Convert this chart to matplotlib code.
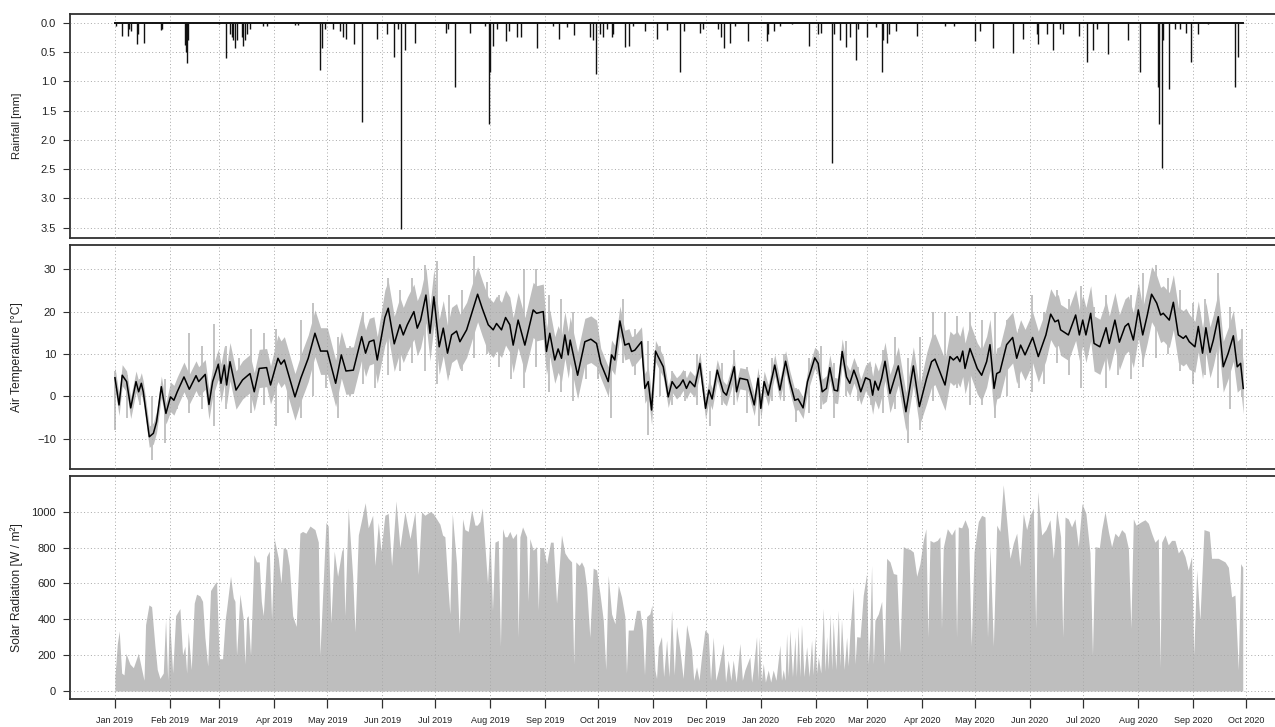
import numpy as np
import pandas as pd
import matplotlib
matplotlib.use('Agg')
import matplotlib.pyplot as plt

plt.rcParams['font.family'] = ['Liberation Sans', 'DejaVu Sans']

# all x values are days since 2019-01-01
start = pd.Timestamp('2019-01-01')
record_days = [0, 637.5]

month_labels = ['Jan 2019', 'Feb 2019', 'Mar 2019', 'Apr 2019', 'May 2019', 'Jun 2019',
                'Jul 2019', 'Aug 2019', 'Sep 2019', 'Oct 2019', 'Nov 2019', 'Dec 2019',
                'Jan 2020', 'Feb 2020', 'Mar 2020', 'Apr 2020', 'May 2020', 'Jun 2020',
                'Jul 2020', 'Aug 2020', 'Sep 2020', 'Oct 2020']

# rainfall events (hourly totals, mm)
rain_day = [0.6, 3.8, 7.2, 8.1, 8.9, 12.2, 12.8, 16.6, 26, 26.7,
            39.5, 40.1, 40.5, 41.1, 58.9, 62.5, 65, 65.9, 66.9, 68,
            69.1, 71.6, 72.5, 73.4, 74.4, 76.3, 83.8, 85.7, 101.7, 103.6,
            115.8, 116.9, 118.6, 123.4, 127.1, 129, 130.5, 135.2, 139.7, 147.8,
            153.9, 157.8, 160.1, 161.6, 163.8, 169.5,
            187, 188, 192.1, 200.5, 209, 211.3, 211.9, 213.7, 215.6, 220.9,
            222.8, 226.9, 229.4, 238.2, 247.6, 251, 255.2, 259.3, 268.3, 270.2,
            271.7, 274, 275.9, 277.8, 280.6, 281.5, 288.1, 290.4, 292.8, 299.4,
            306, 311.7, 319.2, 321.6, 330.5, 332.4, 340.9, 342.7, 344.2, 347.4,
            350.2, 357.8, 368.2, 369.1, 372.3, 375.7, 382.3, 392.3, 397.4, 399.2,
            405.3, 406.4, 409.6, 413.3,
            415.3, 418.5, 420, 424.7, 430, 433.4, 434.2, 436, 437.5, 441.3,
            453, 469, 474, 485.9, 488.7, 496.3, 507.6, 512.9, 520.8, 521.7,
            526.4, 530.2, 534, 535.8, 544.9, 549, 552.4, 554.6, 561.3, 572.5,
            579.1, 589.5, 590.1, 591.4, 592.3, 595.7, 598.9, 601.7, 605.1, 607.8,
            612.1, 617.4, 632.8, 634.7]
rain_mm = [0.05, 0.23, 0.23, 0.1, 0.15, 0.36, 0.2, 0.34, 0.13, 0.1,
           0.38, 0.5, 0.68, 0.3, 0.03, 0.6, 0.2, 0.25, 0.3, 0.44,
           0.3, 0.25, 0.4, 0.3, 0.2, 0.1, 0.05, 0.05, 0.04, 0.04,
           0.8, 0.44, 0.1, 0.1, 0.15, 0.24, 0.27, 0.36, 1.69, 0.28,
           0.2, 0.59, 0.1, 3.53, 0.46, 0.34,
           0.18, 0.1, 1.09, 0.17, 0.05, 1.73, 0.85, 0.4, 0.1, 0.32,
           0.15, 0.25, 0.25, 0.44, 0.05, 0.27, 0.07, 0.21, 0.25, 0.3,
           0.88, 0.2, 0.25, 0.1, 0.24, 0.2, 0.42, 0.4, 0.05, 0.15,
           0.27, 0.13, 0.84, 0.15, 0.18, 0.1, 0.1, 0.24, 0.44, 0.35,
           0.05, 0.31, 0.32, 0.2, 0.15, 0.05, 0.03, 0.4, 0.2, 0.18,
           2.39, 0.2, 0.3, 0.41,
           0.24, 0.64, 0.1, 0.25, 0.08, 0.85, 0.3, 0.34, 0.2, 0.15,
           0.23, 0.05, 0.06, 0.31, 0.15, 0.44, 0.52, 0.28, 0.2, 0.37,
           0.2, 0.46, 0.1, 0.19, 0.23, 0.67, 0.47, 0.1, 0.53, 0.3,
           0.84, 1.1, 1.73, 2.48, 0.3, 1.14, 0.1, 0.1, 0.18, 0.67,
           0.19, 0.03, 1.09, 0.59]

# daily mean air temperature (turning points of the black line)
temp_day = [0, 2.3, 4.1, 6.6, 8.9, 11.9, 13.4, 14.9, 16, 19.4, 21.7, 23.5, 26.2, 28.8,
            31.4, 33.3, 35.2, 39, 42, 45.8, 47.3, 51, 53.1, 55.2, 58.4, 59.9, 61.8, 63.1, 65,
            68.4, 72.1, 76.3, 78.7, 81.5, 85.7, 87.9, 92.1, 93.8, 95.7, 101.7, 105, 109.2, 113,
            116.2, 120, 124.7, 127.9, 130.5, 134.7, 139.4, 141.6, 143.7, 146.3, 148.2, 152.5,
            154.4, 157.8, 161, 162.9, 165.2, 168.9, 170.8, 172.7, 175.7, 178, 180.2, 183.2,
            185.5, 187.9, 190.2, 193, 194.9, 198.7, 200.6, 204.9, 207.5,
            210.9, 213.7, 215.6, 218.4, 220.7, 223.1, 225, 227.8, 231.6, 236.3,
            238.2, 242, 243.8, 245.7, 248.5, 250.4, 252.3, 254.2, 256.1, 257.2,
            261.4, 265.5, 268.9, 272.1, 274.5, 278.7, 280.6, 282.4, 285.3, 288.1,
            290.4, 291.9, 293.7, 297.5, 299.4, 301.3, 303.2, 305.4, 306.9, 309.8,
            312.6, 314.8, 317.3, 319.2, 321, 322.9, 324.8, 327.6, 330.5, 333.7,
            335.6, 337.4, 340.3, 343.7, 345.5, 348, 349.9, 351.2, 353.1, 357.4,
            361.2, 363.4, 364.9, 366.8, 369.1, 372.8, 375.7, 378.9, 381.3, 384.1,
            386, 388.8, 391.3, 395.4, 397.3, 399.6, 402, 403.9, 406.4, 408.3,
            410.9, 413.3, 415.2, 417.5, 419.5, 421.4, 424.1,
            426.6, 428.1, 429.4, 431.3, 433.2, 435.1, 437.9, 442.6, 446.9, 451.1,
            454.5, 458.6, 461.4, 463.3, 466.1, 469, 471.8, 473.7, 475.9, 477.4,
            479, 480.3, 483.1, 487.2, 489.7, 492.5, 494.4, 496.7, 498.2, 500,
            503.8, 507.2, 509.5, 511.7, 514.2, 518.5, 521.7, 526, 528.7, 531.1,
            533, 534.3, 538.7, 542.8, 544.9, 546.8, 548.6, 551.3, 553.2, 556.5,
            560, 561.8, 565, 567.5, 570.7, 572.6, 575.4, 578.2, 580.7, 583.3,
            585.7, 588.6, 590.8, 592.3, 595.7, 598, 600.8, 603.6, 605.1, 607,
            610.2, 612.1, 614.5, 616.4, 618.7, 620.6, 623.4, 626.2, 629, 631.9,
            634.1, 636, 637.5]
temp_mean = [4.4, -2.0, 5.0, 3.5, -2.7, 3.5, 1.1, 3.1, 1.1, -9.5, -8.7, -6.0, 2.3, -4.0,
             -0.1, -0.9, 1.1, 4.6, 1.7, 4.9, 3.5, 5.2, -1.9, 3.5, 7.6, 3.1, 7.4, 2.7, 8.2,
             1.5, 3.9, 5.4, 1.1, 6.6, 6.8, 2.7, 9.0, 7.6, 8.6, -0.1, 4.3, 9.0, 14.9,
             10.7, 10.7, 3.1, 9.8, 6.0, 6.2, 14.1, 10.2, 12.9, 13.3, 8.6, 18.6,
             20.8, 12.4, 16.9, 14.5, 16.9, 20.0, 16.1, 18.0, 23.9, 14.9, 23.5, 11.7,
             16.1, 10.2, 14.5, 15.4, 12.9, 15.7, 18.3, 24.1, 20.8,
             16.9, 15.7, 17.2, 15.7, 18.6, 16.9, 12.1, 18.0, 12.1, 20.4,
             19.6, 20.0, 10.6, 14.9, 8.6, 11.2, 9.0, 14.5, 9.8, 13.3,
             5.0, 12.9, 13.5, 12.5, 7.8, 3.5, 9.8, 8.6, 17.8, 12.1,
             12.5, 10.6, 10.9, 12.9, 1.9, 3.5, -3.2, 10.7, 9.4, 7.0,
             -0.1, 3.5, 1.9, 2.7, 3.9, 1.9, 3.6, 2.3, 7.8, -2.8,
             1.5, -0.6, 6.2, 1.1, 0.3, 3.9, 7.0, 1.1, 4.3, 3.9,
             -2.0, 4.3, -2.8, 3.5, 0.3, 7.4, 1.5, 8.3, 3.5, -0.9,
             -0.6, -2.7, 3.5, 9.1, 7.8, 1.1, 1.9, 6.8, 1.5, 1.3,
             10.6, 4.6, 3.1, 6.2, 3.9, 1.1, 4.4,
             3.9, 0.3, 3.6, 1.5, 4.3, 8.3, 0.7, 7.2, -3.6, 7.2,
             -2.4, 4.3, 8.2, 8.8, 5.8, 2.7, 9.4, 8.6, 9.4, 8.2,
             10.7, 6.6, 11.3, 6.6, 5.0, 8.2, 12.2, 1.9, 5.4, 5.8,
             12.2, 13.9, 9.0, 12.1, 9.8, 13.9, 9.4, 14.5, 19.4, 17.6,
             18.0, 15.7, 14.5, 19.2, 14.5, 18.0, 14.5, 19.6, 12.5, 11.7,
             16.2, 12.5, 18.0, 12.8, 16.5, 17.2, 13.3, 20.4, 14.5, 19.2,
             24.1, 22.0, 19.2, 19.6, 18.0, 22.2, 14.5, 13.7, 14.3, 12.9,
             11.7, 16.5, 10.2, 16.2, 10.4, 13.3, 18.8, 7.0, 10.2, 14.3,
             7.0, 7.8, 1.9]

# dense part of the hourly grey trace: half width around the daily mean, per month
core_halfwidth = [2.5, 3.5, 4.5, 5.5, 5.5, 6.5, 6.5, 6.5, 5.5, 3.5, 2.5, 2.5,
                  2.5, 3, 4.5, 6, 6, 6, 6.5, 6.5, 6]

# hourly temperature extremes, read weekly (days 0, 7, 14, ...)
band_step = 7
band_hi = [6, 5, 4, 0, 4, 3, 15, 12, 17, 12,
           9, 16, 15, 16, 10, 18, 22, 16, 14, 12,
           20, 16, 28, 25, 28, 31, 32, 24, 25, 33,
           27, 24, 21, 30, 30, 24, 23, 20, 16, 15,
           10, 23, 16, 13, 12, 6, 6, 10, 6, 8,
           11, 7, 5, 9, 10, 2, 9, 12, 8, 13,
           7, 7, 11, 14, 9, 14, 20, 20, 19, 20,
           18, 20, 18, 16, 24, 20, 25, 23, 26, 21,
           24, 20, 24, 29, 31, 28, 25, 22, 23, 29,
           21, 16]
band_lo = [-8, -5, -2, -15, -11, -3, -4, -3, -7, -3,
           -1, -4, -2, -7, -4, -5, 0, 2, -5, 0,
           3, 2, 5, 6, 8, 6, 3, 5, 6, 9,
           10, 7, 4, 2, 7, 1, 1, -1, 4, 4,
           -5, 8, 5, -9, 0, -2, -1, -2, -7, -2,
           -2, -4, -7, -1, -1, -6, -4, -3, -5, 0,
           -1, -2, -4, -3, -11, -8, -1, 0, 2, -2,
           -2, -5, 0, 2, 1, 3, 8, 5, 2, 9,
           2, 5, 4, 7, 9, 10, 6, 3, 5, 2,
           -3, 0]

# solar radiation peaks (W/m2), roughly one row per month
solar_day = [0, 1.3, 2.4, 3.8, 5.1, 6.2, 8.5, 10.4, 13.2, 15.1, 16.4, 17.3, 19.2, 20.7, 22.6, 23.9, 25.4, 27.3, 28.6, 29.8,
             30.7, 32.6, 34.3, 36.7, 38.2, 39.5, 40.5, 41.4, 43.1, 44.8, 46.1, 48, 49.5, 50.8, 52.4, 54, 56.5, 57.4, 58.9,
             60.8, 62.3, 63.1, 65.3, 66.9, 67.8, 68.7, 69.3, 70.6, 72.5, 73.4, 74.4, 75.3, 76.6, 78.5, 80, 81.5, 82.7, 83.8, 85.7, 87.2, 88.5, 90,
             92.3, 93.8, 95.1, 97, 98.5, 100.4, 102.4, 104.5, 106, 107.9, 110.2, 113, 114.9, 115.8, 119.2,
             120.5, 122, 123.9, 125.8, 128.1, 129, 129.9, 131.8, 134.3, 135.6, 137.5, 138.8, 141.4, 143.1, 145.6, 146.9, 148.8, 150.3,
             152.5, 154.4, 156.3, 158.8, 161, 163.8, 166.7, 169.5, 171.4, 173.2, 175.1, 178, 179.8,
             183.6, 185.1, 186.4, 188.3, 189.2, 190.6, 193, 194.5, 196.4, 197.7, 199.6, 201.5, 203.4, 204.7, 206.2, 207.5, 209, 210.5,
             211.9, 213.3, 214.7, 216.6, 217.8, 219, 220.3, 221.6, 223.1, 224.7, 226.9, 227.8, 228.8, 230.3, 232.6, 233.5, 234.4, 236.3, 238.2, 239.2, 240.1, 242,
             243.9, 246.1, 247.6, 249.5, 252.3, 254.2, 256.1, 258, 259.2, 260.4, 262.3, 263.6, 265, 266.5, 268.3, 270.2, 272.1,
             274, 275.9, 277.3, 278.7, 280.6, 282.5, 284.4, 286.2, 288.1, 289, 290, 292.8, 294.7, 296.6, 298.1, 299.2, 300.4, 302.2, 303.4,
             305.1, 306, 307, 308.8, 310, 311.7, 313, 314.5, 316, 317.3, 319.2, 321, 323, 325.8, 327, 328.6, 330, 331.4, 333.3,
             335.2, 336.5, 338, 339.5, 340.9, 343.7, 345, 346.5, 348, 349.3, 351, 353.1, 354.5, 355.9, 358.7, 359.7, 360.6, 362.5, 363.2, 364,
             365.2, 366.3, 367.5, 369.1, 370.5, 371.9, 373.5, 375.7, 376.6, 377.6, 378.6, 379.5, 380.4, 381.3, 382.8, 384.2, 385, 386, 387, 387.9, 389.3, 390.8, 392.2, 393.6, 394.5, 395.5,
             396.4, 397.4, 398.8, 400.2, 401.2, 402.1, 403, 404, 405, 405.8, 407.3, 408.7, 409.6, 410.5, 412, 413.4, 414.3,
             415.3, 417.2, 418.2, 419.1, 421, 422.8, 424.7, 425.6, 426.6, 427.5, 428.5, 429.4, 431.3, 433.2, 434.6, 436, 437.9, 439.8, 441.7, 443.5, 445.4, 447.3, 449.2, 451.1, 453, 454.8,
             456.7, 458.2, 459.3, 460.5, 462.4, 464.6, 466.1, 467, 468, 470.3, 472.7, 474.6, 475.5, 476.5, 478.4, 480.3, 482.2, 483.8, 485.4,
             487.8, 489.7, 491.6, 493, 494.4, 496.3, 498.2, 500, 501.9, 503.8, 505.7, 507.6, 509.5, 511.3, 513.2, 515.1, 517,
             518.9, 520.2, 521.3, 523.6, 526, 528.3, 530.2, 532.1, 534.3, 535.5, 536.8, 538.6, 540.5, 542.4, 544.3, 546.4,
             548.6, 550.9, 552.3, 553.7, 556.2, 557.5, 559.4, 561.3, 563.1, 565, 566.9, 568.8, 570.7, 572.6, 574, 575.4, 576.9,
             580.1, 582, 583.9, 585.7, 587.6, 589.5, 590.5, 591.4, 593.3, 595.1, 597, 598.9, 600.8, 602.7, 604.6, 606.4, 608.3, 609.5,
             611.2, 613, 615.3, 618.3, 619.6, 621.5, 623.4, 625.3, 627.2, 629.1, 630.9, 632.8, 634.7, 636, 637.2]
solar_wm = [80, 260, 335, 100, 90, 210, 150, 130, 210, 120, 60, 370, 480, 470, 250, 120, 70, 100, 400, 60,
            430, 100, 420, 460, 200, 250, 100, 330, 120, 490, 540, 530, 500, 300, 140, 560, 600, 610, 180,
            180, 400, 460, 640, 520, 500, 200, 300, 540, 400, 150, 410, 420, 200, 760, 720, 720, 500, 420, 750, 780, 400, 850,
            740, 600, 800, 790, 700, 420, 360, 880, 890, 880, 920, 900, 830, 200, 940,
            920, 380, 780, 640, 780, 800, 420, 1020, 640, 330, 870, 930, 1050, 910, 980, 700, 940, 780,
            980, 990, 700, 1060, 800, 1000, 850, 1000, 650, 1000, 980, 1000, 990,
            930, 870, 860, 560, 430, 990, 710, 320, 960, 900, 890, 1010, 925, 925, 945, 1020, 815, 600,
            870, 450, 830, 840, 250, 905, 860, 860, 890, 850, 880, 300, 860, 915, 860, 500, 850, 785, 805, 450, 800, 800,
            710, 830, 830, 490, 870, 770, 740, 720, 150, 720, 700, 720, 690, 580, 300, 685, 675,
            545, 395, 120, 645, 430, 375, 590, 525, 415, 100, 340, 340, 450, 450, 340, 90, 415, 430, 480,
            117, 70, 247, 303, 80, 284, 80, 450, 90, 360, 230, 70, 370, 230, 60, 135, 60, 190, 340,
            320, 60, 300, 60, 117, 265, 50, 173, 60, 173, 50, 265, 60, 117, 190, 50, 117, 303, 60, 300,
            50, 154, 50, 117, 50, 117, 60, 256, 60, 120, 60, 320, 80, 340, 80, 303, 80, 360, 80, 370, 80, 247, 80, 284, 90, 303,
            100, 190, 100, 460, 110, 303, 120, 430, 120, 395, 120, 450, 140, 400, 120, 300, 140,
            340, 580, 150, 303, 300, 535, 655, 150, 350, 700, 150, 395, 430, 500, 150, 740, 720, 655, 650, 210, 805, 795, 790, 775, 640, 710,
            840, 905, 300, 840, 830, 840, 860, 350, 800, 905, 870, 905, 300, 915, 910, 955, 905, 250, 775,
            945, 980, 970, 300, 805, 250, 925, 890, 1150, 955, 740, 825, 880, 695, 990, 900, 980,
            1020, 350, 1110, 870, 900, 955, 740, 1010, 860, 300, 970, 960, 915, 960, 805, 1045,
            990, 770, 200, 805, 800, 900, 1000, 890, 805, 880, 860, 900, 880, 795, 350, 960, 925,
            945, 955, 935, 880, 830, 850, 130, 830, 870, 815, 840, 840, 770, 795, 750, 675, 750, 200,
            675, 395, 900, 890, 740, 740, 740, 730, 720, 690, 525, 535, 117, 710, 690]


def to_dates(days):
    return start + pd.to_timedelta(np.asarray(days, dtype=float), unit='D')


def main():
    fig = plt.figure(figsize=(12.75, 7.27), dpi=100)
    W, H = 1275.0, 727.0
    left = 70 / W
    width = 1206 / W
    # panel top/bottom in pixels
    panels = [(14, 237.7), (245, 469), (476, 699)]
    axes = []
    for top, bot in panels:
        ax = fig.add_axes([left, (H - bot) / H, width, (bot - top) / H])
        axes.append(ax)
    ax1, ax2, ax3 = axes

    month_ticks = pd.date_range('2019-01-01', periods=len(month_labels), freq='MS')
    grid_kw = dict(color='#a8a8a8', linestyle=(0, (1, 2.5)), linewidth=0.7, zorder=5)

    for ax in axes:
        ax.set_xlim(to_dates([-25.4])[0], to_dates([656])[0])
        ax.set_xticks(month_ticks)
        ax.grid(True, **grid_kw)
        ax.set_axisbelow(False)
        ax.spines['right'].set_visible(False)
        for s in ['left', 'top', 'bottom']:
            ax.spines[s].set_color('#303030')
            ax.spines[s].set_linewidth(1.3)
        ax.tick_params(axis='y', direction='out', length=5, width=0.8, color='#303030',
                       labelsize=8, pad=5, labelcolor='#222222')

    # Rainfall, drawn downward from the top
    ax1.vlines(to_dates(rain_day), 0, rain_mm, color='#111111', linewidth=1.0, zorder=3)
    ax1.plot(to_dates(record_days), [0, 0], color='#111111', linewidth=1.4, zorder=3)
    ax1.set_ylim(3.671, -0.1485)
    ax1.set_yticks([0, 0.5, 1.0, 1.5, 2.0, 2.5, 3.0, 3.5])
    ax1.set_yticklabels(['0.0', '0.5', '1.0', '1.5', '2.0', '2.5', '3.0', '3.5'])
    ax1.tick_params(axis='x', length=0, labelbottom=False)

    # Air temperature: hourly trace in grey and daily mean in black
    t_dates = to_dates(temp_day)
    month_idx = (t_dates.year - 2019) * 12 + t_dates.month - 1
    hw = np.array(core_halfwidth)[np.minimum(month_idx, len(core_halfwidth) - 1)]
    mean = np.array(temp_mean)
    ax2.fill_between(t_dates, mean - hw, mean + hw, color='#bebebe', linewidth=0, zorder=2)
    band_day = np.arange(len(band_hi)) * band_step
    ax2.vlines(to_dates(band_day), band_lo, band_hi, color='#bebebe', linewidth=1.3, zorder=2)
    ax2.plot(t_dates, temp_mean, color='black', linewidth=1.1, zorder=3)
    ax2.set_ylim(-17.1, 35.7)
    ax2.set_yticks([-10, 0, 10, 20, 30])
    ax2.tick_params(axis='x', length=0, labelbottom=False)

    # Solar radiation
    ax3.fill_between(to_dates(solar_day), 0, solar_wm, color='#bebebe', linewidth=0, zorder=2)
    ax3.set_ylim(-44.6, 1199)
    ax3.set_yticks([0, 200, 400, 600, 800, 1000])
    ax3.set_xticklabels(month_labels)
    ax3.tick_params(axis='x', direction='out', length=6.5, width=0.9, color='#303030',
                    labelsize=6.5, pad=6, labelcolor='#222222')

    # y axis titles
    fig.text(17 / W, 1 - (14 + 237.7) / 2 / H, 'Rainfall [mm]', rotation=90,
             ha='center', va='center', fontsize=8.2, color='#222222')
    fig.text(17 / W, 1 - (245 + 469) / 2 / H, 'Air Temperature [°C]', rotation=90,
             ha='center', va='center', fontsize=8.7, color='#222222')
    fig.text(17 / W, 1 - (476 + 699) / 2 / H, 'Solar Radiation [W / m²]', rotation=90,
             ha='center', va='center', fontsize=8.7, color='#222222')

    fig.savefig('out.png', dpi=100)


main()
